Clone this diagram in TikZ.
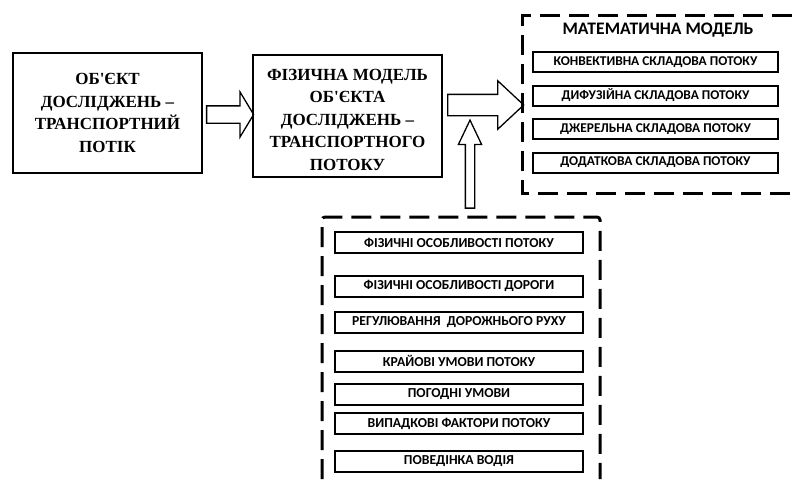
\documentclass[tikz,border=0pt]{standalone}
\usepackage{fontspec}
\setmainfont{Liberation Serif}
\newfontfamily\calfont{Carlito}[UprightFont=* Bold, BoldFont=* Bold]
\usetikzlibrary{shapes.arrows,calc}

\tikzset{
  bigtext/.style={align=center, font=\bfseries\fontsize{17}{22.5}\selectfont},
  bigbox/.style={draw, line width=2.5pt, minimum width=189pt, bigtext},
  itembox/.style={draw, line width=2pt, minimum width=248pt, minimum height=21pt,
    inner sep=0pt, font=\calfont\fontsize{13.7}{13.7}\selectfont},
  mathbox/.style={itembox, minimum width=245pt, minimum height=20pt,
    font=\calfont\fontsize{13.4}{13.4}\selectfont},
  dashbox/.style={line width=3pt, dash pattern=on 20pt off 9pt},
  blockarrow/.style={draw, single arrow, line width=1.3pt, inner sep=0pt, minimum width=0pt}
}

\begin{document}
\begin{tikzpicture}[x=1pt, y=-1pt]
    \useasboundingbox (0,0) rectangle (792,479);

    % --- Object of research ---
    \node[bigbox, minimum height=120pt] (obj) at (107.5,113)
        {ОБ\textquotesingle ЄКТ\\ДОСЛІДЖЕНЬ –\\ТРАНСПОРТНИЙ\\ПОТІК};

    % --- Physical model ---
    \node[bigbox, minimum height=122pt] (phys) at (347.5,116) {};
    \node[bigtext] (physlbl) at (347.5,119.5)
        {ФІЗИЧНА МОДЕЛЬ\\ОБ\textquotesingle ЄКТА\\ДОСЛІДЖЕНЬ –\\ТРАНСПОРТНОГО\\ПОТОКУ};

    % Block arrows
    \node[blockarrow, minimum height=47pt, inner ysep=8pt,
          single arrow head extend=14pt, single arrow tip angle=118]
        (arr1) at ($(obj.east)!0.5!(phys.west)$) {};
    \node[blockarrow, minimum height=76pt, inner ysep=10pt,
          single arrow head extend=13.5pt, single arrow tip angle=86]
        (arr2) at (480,105) {};
    \node[blockarrow, rotate=90, minimum height=88pt, inner ysep=4pt,
          single arrow head extend=7pt, single arrow tip angle=51]
        (arr3) at (470,169) {};

    % --- Mathematical model ---
    \draw[dashbox] (792,15) -- (522,15) -- (522,193) -- (792,193);
    \node[font=\calfont\fontsize{17.6}{17.6}\selectfont] (mtitle) at (658,30)
        {МАТЕМАТИЧНА МОДЕЛЬ};
    \foreach \y/\lbl [count=\i] in {62/КОНВЕКТИВНА СКЛАДОВА ПОТОКУ,
                                    95.5/ДИФУЗІЙНА СКЛАДОВА ПОТОКУ,
                                    129/ДЖЕРЕЛЬНА СКЛАДОВА ПОТОКУ,
                                    162.5/ДОДАТКОВА СКЛАДОВА ПОТОКУ}
        \node[mathbox] (m\i) at (655.5,\y) {\lbl};

    % --- Factors of the flow ---
    \draw[dashbox, rounded corners=3pt] (322,479) -- (322,217) -- (600,217) -- (600,479);
    \foreach \y/\lbl [count=\i] in {242.5/ФІЗИЧНІ ОСОБЛИВОСТІ ПОТОКУ,
                                    286/ФІЗИЧНІ ОСОБЛИВОСТІ ДОРОГИ,
                                    322.5/РЕГУЛЮВАННЯ\ \ ДОРОЖНЬОГО РУХУ,
                                    361/КРАЙОВІ УМОВИ ПОТОКУ,
                                    394/ПОГОДНІ УМОВИ,
                                    423.5/ВИПАДКОВІ ФАКТОРИ ПОТОКУ,
                                    461/ПОВЕДІНКА ВОДІЯ}
        \node[itembox] (f\i) at (459,\y) {\lbl};
\end{tikzpicture}
\end{document}
